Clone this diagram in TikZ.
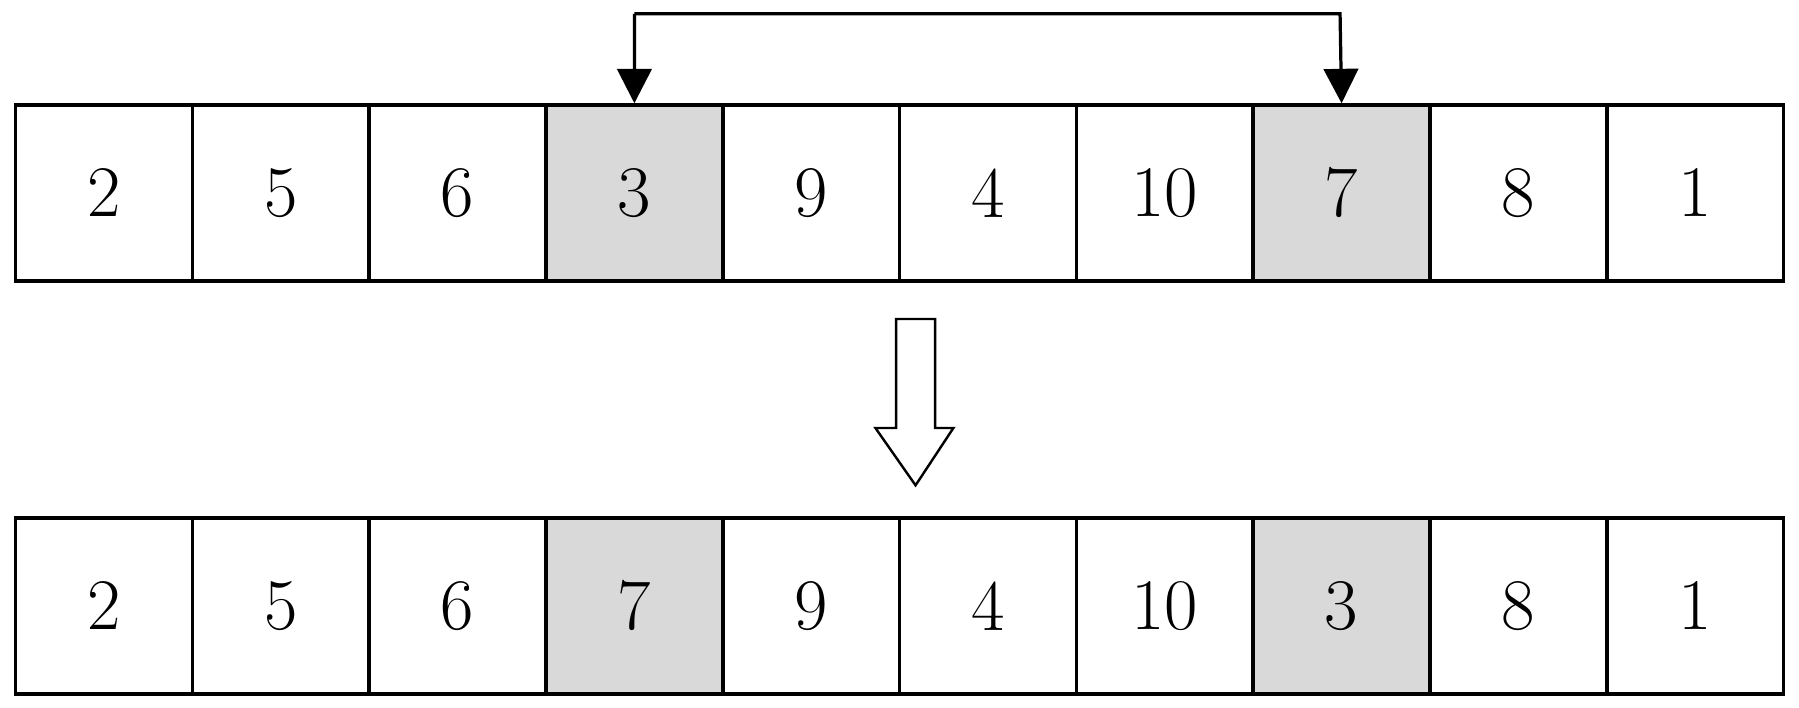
\documentclass[tikz,border=0pt]{standalone}
\usetikzlibrary{arrows.meta}
\definecolor{cellgray}{HTML}{D9D9D9}
\begin{document}
\begin{tikzpicture}[x=0.01cm,y=-0.01cm,
  cell/.style={draw,line width=0.9pt,minimum width=1.54cm,minimum height=1.53cm,inner sep=0pt,font=\fontsize{18}{20}\selectfont,anchor=north west},
  hl/.style={fill=cellgray}]
\useasboundingbox (0,0) rectangle (1568,617);
\foreach \v [count=\i] in {2,5,6,3,9,4,10,7,8,1}{
  \pgfmathsetmacro{\xx}{12+(\i-1)*154.1}
  \ifnum\i=4 \node[cell,hl] (t\i) at (\xx,90) {\v};
  \else\ifnum\i=8 \node[cell,hl] (t\i) at (\xx,90) {\v};
  \else \node[cell] (t\i) at (\xx,90) {\v};\fi\fi
}
\foreach \v [count=\i] in {2,5,6,7,9,4,10,3,8,1}{
  \pgfmathsetmacro{\xx}{12+(\i-1)*154.1}
  \ifnum\i=4 \node[cell,hl] (b\i) at (\xx,450) {\v};
  \else\ifnum\i=8 \node[cell,hl] (b\i) at (\xx,450) {\v};
  \else \node[cell] (b\i) at (\xx,450) {\v};\fi\fi
}
\coordinate (c1) at (553,12);
\coordinate (c2) at (1168,12);
\draw[line width=0.8pt,-{Triangle[length=0.3cm,width=0.3cm]}] (c1) -- (t4.north);
\draw[line width=0.8pt,-{Triangle[length=0.3cm,width=0.3cm]}] (c1) -- (c2) -- (t8.north);
\draw[line width=0.6pt,fill=white] (781,278) -- (815,278) -- (815,373) -- (831,373) -- (798,423) -- (763,373) -- (781,373) -- cycle;
\end{tikzpicture}
\end{document}
